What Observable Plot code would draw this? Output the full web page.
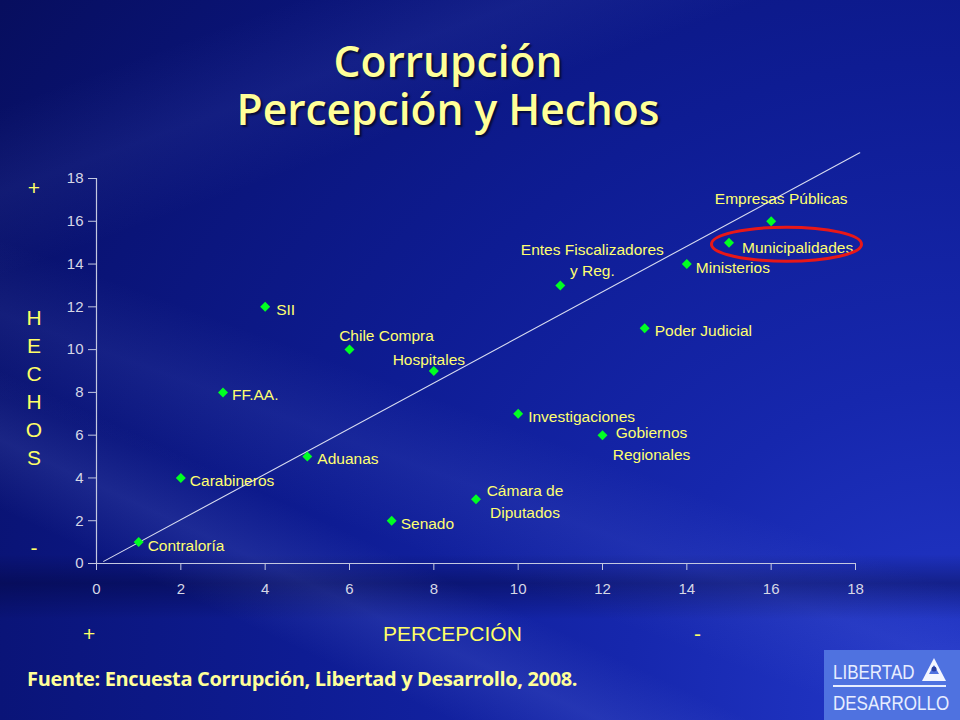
<!DOCTYPE html>
<html>
<head>
<meta charset="utf-8">
<script src="https://cdn.jsdelivr.net/npm/d3@7"></script>
<script src="https://cdn.jsdelivr.net/npm/@observablehq/plot@0.6"></script>
<style>
  html, body { margin: 0; padding: 0; }
  body { width: 960px; height: 720px; overflow: hidden; }
  #page {
    position: relative; width: 960px; height: 720px; overflow: hidden;
    background:
      linear-gradient(200deg, rgba(255,255,255,0.0) 55%, rgba(150,170,255,0.08) 62%, rgba(255,255,255,0) 70%),
      linear-gradient(205deg, rgba(255,255,255,0.0) 70%, rgba(150,170,255,0.12) 76%, rgba(255,255,255,0) 82%),
      linear-gradient(160deg, rgba(255,255,255,0.0) 10%, rgba(140,160,255,0.07) 18%, rgba(255,255,255,0) 26%),
      linear-gradient(180deg, rgba(0,0,30,0) 77%, rgba(0,0,40,0.35) 81%, rgba(0,0,30,0) 86%),
      radial-gradient(circle at 100% 100%, #2439cc 0%, #1627ad 28%, #0e1c93 55%, #0a1478 80%, #070e5e 100%);
  }
  .title {
    position: absolute; left: 0; top: 37px; width: 896px; text-align: center;
    font-family: "Open Sans", sans-serif; font-weight: 600; font-size: 42.5px;
    color: #ffff99; text-shadow: 2px 2px 2px rgba(0,0,0,0.6); line-height: 48px;
  }
  .ylab {
    position: absolute; font-family: "Liberation Sans", Arial, sans-serif; font-size: 21px;
    color: #ffff66; width: 20px; text-align: center; left: 24px;
  }
  .xlab {
    position: absolute; font-family: "Liberation Sans", Arial, sans-serif; font-size: 21px;
    color: #ffff66; top: 622px;
  }
  #chart { position: absolute; left: 0; top: 150px; }
  #chart svg { overflow: visible; }
  .source {
    position: absolute; left: 27px; top: 665px;
    font-family: "Open Sans", sans-serif; font-weight: 700; font-size: 20px;
    color: #ffff99; letter-spacing: -0.35px; white-space: nowrap;
  }
  #logo {
    position: absolute; left: 824px; top: 650px; width: 136px; height: 70px;
    background: #4f72e0;
  }
</style>
</head>
<body>
<div id="page">
  <div class="title">Corrupción<br>Percepción y Hechos</div>

  <div class="ylab" style="top:176px">+</div>
  <div class="ylab" style="top:306px">H</div>
  <div class="ylab" style="top:334px">E</div>
  <div class="ylab" style="top:362px">C</div>
  <div class="ylab" style="top:390px">H</div>
  <div class="ylab" style="top:418px">O</div>
  <div class="ylab" style="top:446px">S</div>
  <div class="ylab" style="top:536px">-</div>

  <div id="chart"></div>

  <div class="xlab" style="left:83px">+</div>
  <div class="xlab" style="left:383px">PERCEPCIÓN</div>
  <div class="xlab" style="left:694px">-</div>

  <div class="source">Fuente: Encuesta Corrupción, Libertad y Desarrollo, 2008.</div>

  <div id="logo">
    <svg width="136" height="70" style="position:absolute;left:0;top:0">
      <g transform="translate(9,29) scale(1,1.2)">
        <text x="0" y="0" font-family="Liberation Sans, Arial" font-size="17" fill="#e8eeff">LIBERTAD</text>
      </g>
      <rect x="9" y="35" width="113" height="2" fill="#e8eeff"/>
      <g transform="translate(9,60) scale(1,1.2)">
        <text x="0" y="0" font-family="Liberation Sans, Arial" font-size="17" fill="#e8eeff">DESARROLLO</text>
      </g>
      <polygon points="110,8 98,31 122,31" fill="#f4f6ff"/>
      <polygon points="110,15 105,24 115,24" fill="#4f72e0"/>
      <circle cx="110" cy="19" r="2.5" fill="#2a3fa0"/>
    </svg>
  </div>
</div>

<script>
// ---- Data ----
const entidades = [
  "Contraloría", "Carabineros", "FF.AA.", "SII", "Aduanas", "Chile Compra",
  "Senado", "Hospitales", "Cámara de Diputados", "Investigaciones",
  "Entes Fiscalizadores y Reg.", "Gobiernos Regionales", "Poder Judicial",
  "Ministerios", "Municipalidades", "Empresas Públicas"
];
const percepcion = [1, 2, 3, 4, 5, 6, 7, 8, 9, 10, 11, 12, 13, 14, 15, 16];
const hechos     = [1, 4, 8, 12, 5, 10, 2, 9, 3, 7, 13, 6, 11, 14, 15, 16];

// Reference diagonal line (end points)
const lineaX = [0.17, 18.1];
const lineaY = [0.1, 19.2];

const xTicks = [0, 2, 4, 6, 8, 10, 12, 14, 16, 18];
const yTicks = [0, 2, 4, 6, 8, 10, 12, 14, 16, 18];

const destacado = "Municipalidades";

// ---- Label layout (presentation only) ----
const etiquetaLayout = {
  "Contraloría":                 {text: "Contraloría", anchor: "start", dx: 9, dy: 2},
  "Carabineros":                 {text: "Carabineros", anchor: "start", dx: 9, dy: 1},
  "FF.AA.":                      {text: "FF.AA.", anchor: "start", dx: 9, dy: 1},
  "SII":                         {text: "SII", anchor: "start", dx: 11, dy: 1},
  "Aduanas":                     {text: "Aduanas", anchor: "start", dx: 10, dy: 0},
  "Chile Compra":                {text: "Chile Compra", anchor: "middle", dx: 37, dy: -16},
  "Senado":                      {text: "Senado", anchor: "start", dx: 9, dy: 1},
  "Hospitales":                  {text: "Hospitales", anchor: "middle", dx: -5, dy: -13},
  "Cámara de Diputados":         {text: "Cámara de\nDiputados", anchor: "middle", dx: 49, dy: 1},
  "Investigaciones":             {text: "Investigaciones", anchor: "start", dx: 10, dy: 1},
  "Entes Fiscalizadores y Reg.": {text: "Entes Fiscalizadores\ny Reg.", anchor: "middle", dx: 32, dy: -27},
  "Gobiernos Regionales":        {text: "Gobiernos\nRegionales", anchor: "middle", dx: 49, dy: 7},
  "Poder Judicial":              {text: "Poder Judicial", anchor: "start", dx: 10, dy: 1},
  "Ministerios":                 {text: "Ministerios", anchor: "start", dx: 9, dy: 2},
  "Municipalidades":             {text: "Municipalidades", anchor: "start", dx: 13, dy: 3},
  "Empresas Públicas":           {text: "Empresas Públicas", anchor: "middle", dx: 10, dy: -24}
};

const puntos = entidades.map((n, i) => ({nombre: n, x: percepcion[i], y: hechos[i]}));
const linea = lineaX.map((x, i) => ({x, y: lineaY[i]}));

const axisColor = "#c4c8e0";
const labelColor = "#ffff70";

const textMarks = puntos.map(p => {
  const L = etiquetaLayout[p.nombre];
  return Plot.text([p], {
    x: "x", y: "y", text: () => L.text,
    textAnchor: L.anchor, dx: L.dx, dy: L.dy,
    fill: labelColor, fontSize: 15.5, lineHeight: 1.4,
    fontFamily: "Liberation Sans, Arial, sans-serif"
  });
});

const plot = Plot.plot({
  width: 960,
  height: 570,
  marginLeft: 96,
  marginRight: 105,
  marginTop: 28,
  marginBottom: 157,
  style: {background: "transparent", overflow: "visible"},
  x: {domain: [0, 18], axis: null},
  y: {domain: [0, 18], axis: null},
  marks: [
    Plot.axisX(xTicks, {
      tickSize: 7, tickPadding: 13, stroke: axisColor, fill: "#d6d8e6",
      fontSize: 15, fontFamily: "Liberation Sans, Arial, sans-serif", label: null
    }),
    Plot.axisY(yTicks, {
      tickSize: 8, tickPadding: 5, stroke: axisColor, fill: "#d6d8e6",
      fontSize: 15, fontFamily: "Liberation Sans, Arial, sans-serif", label: null
    }),
    Plot.ruleX([0], {stroke: axisColor, strokeWidth: 1.2}),
    Plot.ruleY([0], {stroke: axisColor, strokeWidth: 1.2}),
    Plot.line(linea, {x: "x", y: "y", stroke: "#d8dcf0", strokeWidth: 1.1}),
    Plot.dot(puntos, {x: "x", y: "y", symbol: "diamond2", r: 4.5, fill: "#00ff22", stroke: "none"}),
    ...textMarks
  ]
});

document.getElementById("chart").appendChild(plot);

// Red highlight ellipse around the highlighted entity, positioned with the plot's scales
const hp = puntos.find(p => p.nombre === destacado);
const sx = plot.scale("x"), sy = plot.scale("y");
const cx = sx.apply(hp.x) + 58, cy = sy.apply(hp.y) + 2;
d3.select(plot).append("ellipse")
  .attr("cx", cx).attr("cy", cy).attr("rx", 75).attr("ry", 17)
  .attr("fill", "none").attr("stroke", "#e81818").attr("stroke-width", 3);
</script>
</body>
</html>
